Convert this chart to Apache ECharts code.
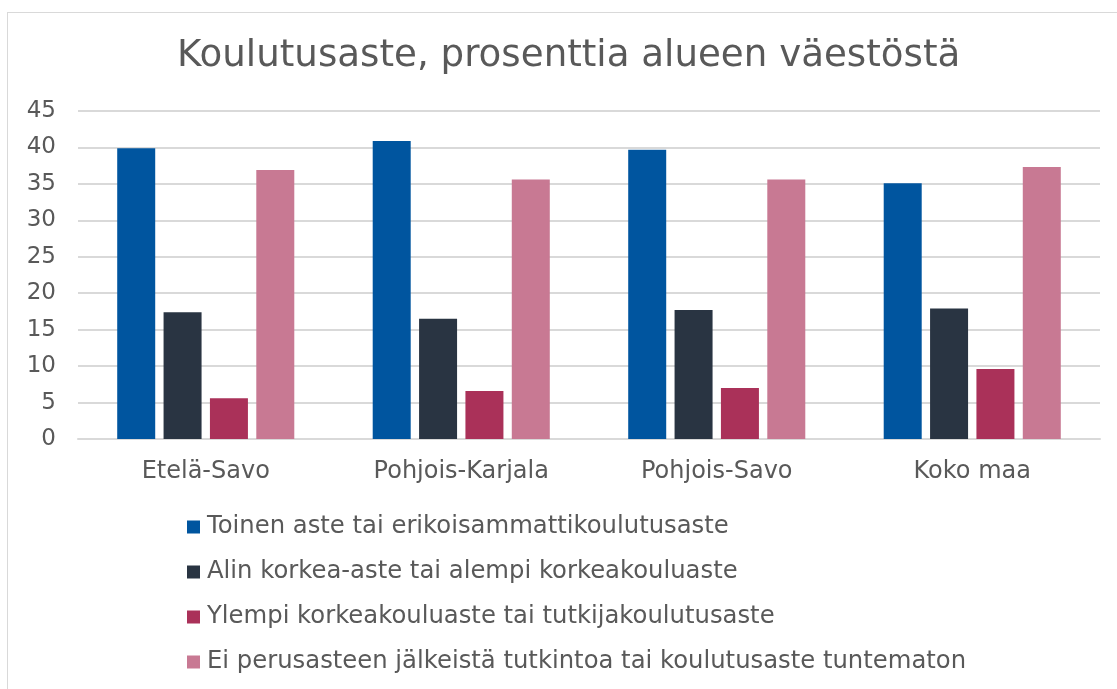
<!DOCTYPE html>
<html>
<head>
<meta charset="utf-8">
<script src="https://cdn.jsdelivr.net/npm/echarts@6/dist/echarts.min.js"></script>
<style>
    html, body { margin: 0; padding: 0; background: #fff; }
    #frame {
        position: absolute; left: 7px; top: 12px; width: 1200px; height: 800px;
        border-left: 1.5px solid #d9d9d9; border-top: 1.5px solid #d9d9d9;
    }
    #chart { position: absolute; left: 0; top: 0; width: 1117px; height: 689px; }
</style>
</head>
<body>
<div id="frame"></div>
<div id="chart"></div>
<script>
// alueet
var regions = ['Etelä-Savo', 'Pohjois-Karjala', 'Pohjois-Savo', 'Koko maa'];

var seriesNames = [
    'Toinen aste tai erikoisammattikoulutusaste',
    'Alin korkea-aste tai alempi korkeakouluaste',
    'Ylempi korkeakouluaste tai tutkijakoulutusaste',
    'Ei perusasteen jälkeistä tutkintoa tai koulutusaste tuntematon'
];

// prosenttia alueen väestöstä
var toinenAste = [39.9, 40.9, 39.7, 35.1];
var alinKorkea = [17.4, 16.5, 17.7, 17.9];
var ylempiKorkea = [5.6, 6.6, 7.0, 9.6];
var eiTutkintoa = [36.9, 35.6, 35.6, 37.3];

var colors = ['#00559f', '#293442', '#aa3159', '#c87993'];
var textColor = '#595959';
var lineColor = '#d9d9d9';
var font = 'DejaVu Sans';

var chart = echarts.init(document.getElementById('chart'));

function makeSeries(name, data) {
    return {
        name: name,
        type: 'bar',
        barWidth: 38,
        barGap: '22%',
        data: data
    };
}

chart.setOption({
    animation: false,
    color: colors,
    title: {
        text: 'Koulutusaste, prosenttia alueen väestöstä',
        left: 172,
        top: 33,
        textStyle: {
            color: textColor,
            fontFamily: font,
            fontSize: 37.2,
            fontWeight: 'normal'
        }
    },
    legend: {
        orient: 'vertical',
        left: 182,
        top: 510,
        itemWidth: 13,
        itemHeight: 13,
        itemGap: 21,
        icon: 'rect',
        data: seriesNames,
        textStyle: {
            color: textColor,
            fontFamily: font,
            fontSize: 24.3,
            padding: [0, 0, 0, 2]
        }
    },
    grid: {
        left: 78,
        right: 17,
        top: 111,
        bottom: 250,
        containLabel: false
    },
    xAxis: {
        type: 'category',
        data: regions,
        axisTick: { show: false },
        axisLine: { lineStyle: { color: lineColor, width: 2 } },
        axisLabel: {
            color: textColor,
            fontFamily: font,
            fontSize: 24,
            margin: 21
        }
    },
    yAxis: {
        type: 'value',
        min: 0,
        max: 45,
        interval: 5,
        axisLine: { show: false },
        axisTick: { show: false },
        splitLine: { lineStyle: { color: lineColor, width: 2 } },
        axisLabel: {
            color: textColor,
            fontFamily: font,
            fontSize: 23,
            margin: 22
        }
    },
    series: [
        makeSeries(seriesNames[0], toinenAste),
        makeSeries(seriesNames[1], alinKorkea),
        makeSeries(seriesNames[2], ylempiKorkea),
        makeSeries(seriesNames[3], eiTutkintoa)
    ]
});
</script>
</body>
</html>
